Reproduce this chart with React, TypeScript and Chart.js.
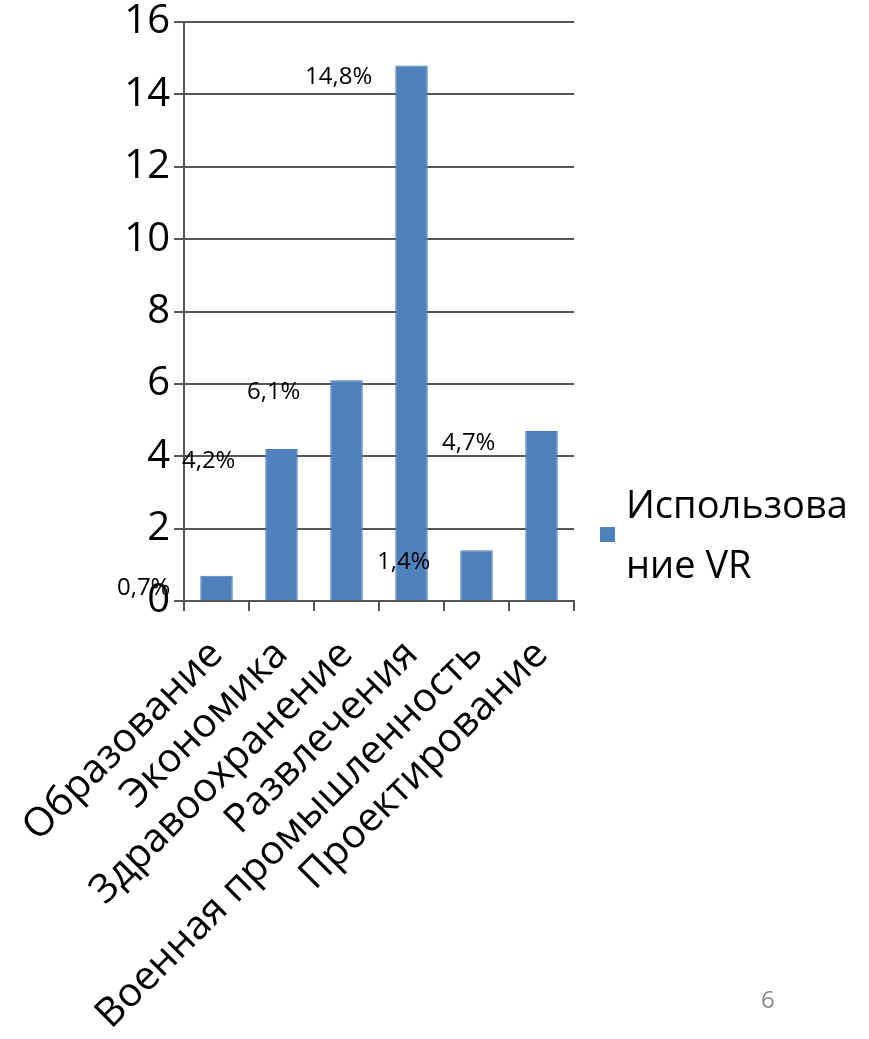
import React, { useEffect, useRef } from "react";
import { Chart, registerables } from "chart.js";

Chart.register(...registerables);

const categories = [
  "Образование",
  "Экономика",
  "Здравоохранение",
  "Развлечения",
  "Военная промышленность",
  "Проектирование",
];
const values = [0.7, 4.2, 6.1, 14.8, 1.4, 4.7];
const valueLabels = ["0,7%", "4,2%", "6,1%", "14,8%", "1,4%", "4,7%"];
const seriesName = ["Использова", "ние VR"];
const yTicks = [0, 2, 4, 6, 8, 10, 12, 14, 16];

const FONT = "'Open Sans', 'DejaVu Sans', sans-serif";
const LINE = "#555555";
const BAR = "#4f81bd";

const labelPlugin = {
  id: "valueLabels",
  afterDatasetsDraw(chart: any) {
    const ctx = chart.ctx;
    const meta = chart.getDatasetMeta(0);
    const xs = chart.scales.x;
    const cat = xs.width / categories.length;
    ctx.save();
    ctx.font = `24px ${FONT}`;
    ctx.fillStyle = "#000";
    ctx.textAlign = "center";
    ctx.textBaseline = "middle";
    meta.data.forEach((el: any, i: number) => {
      ctx.fillText(valueLabels[i], el.x - cat * 1.12, el.y + 12);
    });
    ctx.restore();
  },
};

const legendPlugin = {
  id: "sideLegend",
  afterDraw(chart: any) {
    const ctx = chart.ctx;
    const area = chart.chartArea;
    const x = area.right + 26;
    ctx.save();
    ctx.fillStyle = BAR;
    ctx.fillRect(x, area.bottom - 74, 15, 15);
    ctx.fillStyle = "#000";
    ctx.font = `38px ${FONT}`;
    ctx.textAlign = "left";
    ctx.textBaseline = "alphabetic";
    ctx.fillText(seriesName[0], x + 26, area.bottom - 83);
    ctx.fillText(seriesName[1], x + 26, area.bottom - 23);
    ctx.restore();
  },
};

export default function App() {
  const ref = useRef<HTMLCanvasElement | null>(null);
  useEffect(() => {
    if (!ref.current) return;
    const chart = new Chart(ref.current, {
      type: "bar",
      data: {
        labels: categories,
        datasets: [
          {
            label: seriesName.join(""),
            data: values,
            backgroundColor: BAR,
            borderColor: "#4a7ab4",
            borderWidth: 1,
            categoryPercentage: 1,
            barPercentage: 0.5,
          },
        ],
      },
      options: {
        animation: false,
        responsive: false,
        maintainAspectRatio: false,
        layout: { padding: { top: 0, right: 295, left: 0, bottom: 0 } },
        plugins: { legend: { display: false }, tooltip: { enabled: false } },
        scales: {
          x: {
            offset: true,
            afterFit(scale: any) {
              scale.height = 438;
              scale.paddingLeft = 0;
              scale.paddingRight = 0;
            },
            grid: {
              offset: true,
              drawOnChartArea: false,
              drawTicks: true,
              tickLength: 10,
              color: LINE,
              lineWidth: 2,
            },
            border: { display: true, color: LINE, width: 2 },
            ticks: {
              color: "#000",
              font: { family: FONT, size: 40 },
              minRotation: 45,
              maxRotation: 45,
              autoSkip: false,
              padding: 20,
            },
          },
          y: {
            min: 0,
            max: 16,
            afterFit(scale: any) {
              scale.width = 184;
            },
            afterBuildTicks(scale: any) {
              scale.ticks = yTicks.map((v) => ({ value: v }));
            },
            grid: {
              drawOnChartArea: true,
              drawTicks: true,
              tickLength: 10,
              color: LINE,
              lineWidth: 2,
            },
            border: { display: true, color: LINE, width: 2 },
            ticks: {
              color: "#000",
              font: { family: FONT, size: 40, lineHeight: 0.9 },
              padding: 4,
            },
          },
        },
      },
      plugins: [labelPlugin, legendPlugin],
    });
    return () => chart.destroy();
  }, []);
  return (
    <div style={{ position: "absolute", left: 0, top: 0, width: 869, height: 1039, background: "#fff" }}>
      <canvas ref={ref} width={869} height={1039} style={{ width: 869, height: 1039 }} />
      <div
        style={{
          position: "absolute",
          left: 761,
          top: 982,
          fontFamily: FONT,
          fontSize: 24,
          color: "#8a8a8a",
        }}
      >
        6
      </div>
    </div>
  );
}
